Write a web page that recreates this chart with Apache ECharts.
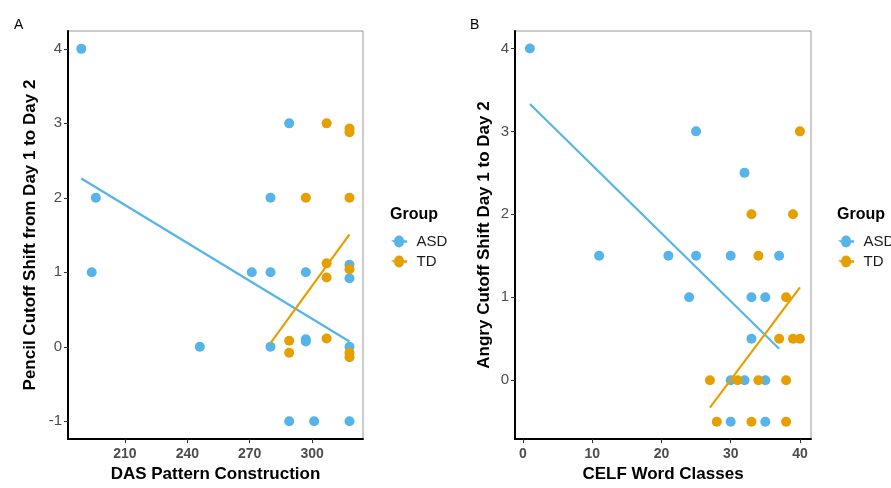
<!DOCTYPE html>
<html>
<head>
<meta charset="utf-8">
<script src="https://cdn.jsdelivr.net/npm/echarts@6/dist/echarts.min.js"></script>
<style>
  html, body { margin: 0; padding: 0; background: #fff; }
  #main { width: 891px; height: 488px; }
</style>
</head>
<body>
<div id="main"></div>
<script>
// panel A: DAS Pattern Construction vs pencil cutoff shift
var dasAsd = [[189, 4], [196, 2], [194, 1], [246, 0], [271, 1], [280, 2], [280, 1], [280, 0],
  [289, 3], [289, -1], [297, 1], [297, 0.1], [297, 0.07], [301, -1],
  [318, 1.1], [318, 0.92], [318, 0], [318, -1]];
var dasTd = [[307, 3], [318, 2.93], [318, 2.88], [297, 2], [318, 2], [307, 1.12], [307, 0.93],
  [318, 1.04], [289, 0.08], [289, -0.08], [307, 0.11], [318, -0.08], [318, -0.14]];
var dasAsdFit = [[189, 2.26], [318, 0.07]];
var dasTdFit = [[280, 0.05], [318, 1.51]];
var dasXTicks = [210, 240, 270, 300];
var dasYTicks = [-1, 0, 1, 2, 3, 4];

// panel B: CELF Word Classes vs angry cutoff shift
var celfAsd = [[1, 4], [25, 3], [32, 2.5], [11, 1.5], [21, 1.5], [25, 1.5], [30, 1.5], [37, 1.5],
  [24, 1], [33, 1], [35, 1], [33, 0.5], [30, 0], [32, 0], [35, 0], [30, -0.5], [35, -0.5]];
var celfTd = [[40, 3], [33, 2], [39, 2], [34, 1.5], [38, 1], [37, 0.5], [39, 0.5], [40, 0.5],
  [27, 0], [31, 0], [34, 0], [38, 0], [28, -0.5], [33, -0.5], [38, -0.5]];
var celfAsdFit = [[1, 3.33], [37, 0.38]];
var celfTdFit = [[27, -0.33], [40, 1.12]];
var celfXTicks = [0, 10, 20, 30, 40];
var celfYTicks = [0, 1, 2, 3, 4];

var groups = ['ASD', 'TD'];
var colAsd = '#56B4E9';
var colTd = '#E69F00';
var font = 'Liberation Sans, Arial, sans-serif';

var chart = echarts.init(document.getElementById('main'), null, { renderer: 'canvas' });

// legend key: short line with a dot on it
var keyIcon = 'path://M0,4L2.8,4A4.2,4.2 0 1 1 11.2,4L14,4L14,6L11.2,6A4.2,4.2 0 1 1 2.8,6Z';

function xAx(idx, name, min, max, ticks) {
  return {
    type: 'value', gridIndex: idx, min: min, max: max,
    name: name, nameLocation: 'middle', nameGap: 26,
    nameTextStyle: { fontFamily: font, fontSize: 17, fontWeight: 'bold', color: '#000' },
    axisLine: { show: true, onZero: false, lineStyle: { color: '#000', width: 2 } },
    axisTick: { show: true, length: 4, customValues: ticks, lineStyle: { color: '#333' } },
    axisLabel: { fontFamily: font, fontSize: 14, fontWeight: 'bold', color: '#4d4d4d', margin: 8, customValues: ticks },
    splitLine: { show: false }
  };
}

function yAx(idx, name, min, max, gap, ticks) {
  return {
    type: 'value', gridIndex: idx, min: min, max: max,
    name: name, nameLocation: 'middle', nameGap: gap, nameRotate: 90,
    nameTextStyle: { fontFamily: font, fontSize: 17, fontWeight: 'bold', color: '#000' },
    axisLine: { show: true, onZero: false, lineStyle: { color: '#000', width: 2 } },
    axisTick: { show: true, length: 4, customValues: ticks, lineStyle: { color: '#333' } },
    axisLabel: { fontFamily: font, fontSize: 15, color: '#4d4d4d', margin: 6, customValues: ticks },
    splitLine: { show: false }
  };
}

function pts(name, data, col, idx) {
  return { name: name, type: 'scatter', xAxisIndex: idx, yAxisIndex: idx, data: data,
    symbolSize: 10, itemStyle: { color: col, opacity: 1 } };
}
function fit(name, data, col, idx) {
  return { name: name, type: 'line', xAxisIndex: idx, yAxisIndex: idx, data: data,
    showSymbol: false, symbol: 'none', z: 3, lineStyle: { color: col, width: 2.2 } };
}

function legend(left) {
  return {
    data: groups, orient: 'vertical', left: left, top: 229, itemWidth: 17, itemHeight: 12,
    itemGap: 5, icon: keyIcon, selectedMode: false,
    textStyle: { fontFamily: font, fontSize: 15, color: '#1a1a1a', padding: [0, 0, 0, 4] }
  };
}

var option = {
  animation: false,
  backgroundColor: '#fff',
  title: [
    { text: 'A', left: 9, top: 13, textStyle: { fontFamily: font, fontSize: 14, fontWeight: 'normal', color: '#000' } },
    { text: 'B', left: 465, top: 13, textStyle: { fontFamily: font, fontSize: 14, fontWeight: 'normal', color: '#000' } },
    { text: 'Group', left: 385, top: 202, textStyle: { fontFamily: font, fontSize: 16, fontWeight: 'bold', color: '#000' } },
    { text: 'Group', left: 832, top: 202, textStyle: { fontFamily: font, fontSize: 16, fontWeight: 'bold', color: '#000' } }
  ],
  legend: [legend(386), legend(833)],
  grid: [
    { left: 68, right: 528, top: 31, bottom: 43, show: true, borderColor: '#999', borderWidth: 1, backgroundColor: '#fff' },
    { left: 515, right: 80, top: 31, bottom: 43, show: true, borderColor: '#999', borderWidth: 1, backgroundColor: '#fff' }
  ],
  xAxis: [
    xAx(0, 'DAS Pattern Construction', 182.6, 324.5, dasXTicks),
    xAx(1, 'CELF Word Classes', -1.15, 41.6, celfXTicks)
  ],
  yAxis: [
    yAx(0, 'Pencil Cutoff Shift from Day 1 to Day 2', -1.24, 4.24, 29, dasYTicks),
    yAx(1, 'Angry Cutoff Shift Day 1 to Day 2', -0.71, 4.21, 22, celfYTicks)
  ],
  series: [
    pts('ASD', dasAsd, colAsd, 0),
    pts('TD', dasTd, colTd, 0),
    fit('ASD fit A', dasAsdFit, colAsd, 0),
    fit('TD fit A', dasTdFit, colTd, 0),
    pts('ASD', celfAsd, colAsd, 1),
    pts('TD', celfTd, colTd, 1),
    fit('ASD fit B', celfAsdFit, colAsd, 1),
    fit('TD fit B', celfTdFit, colTd, 1)
  ]
};

chart.setOption(option);
</script>
</body>
</html>
